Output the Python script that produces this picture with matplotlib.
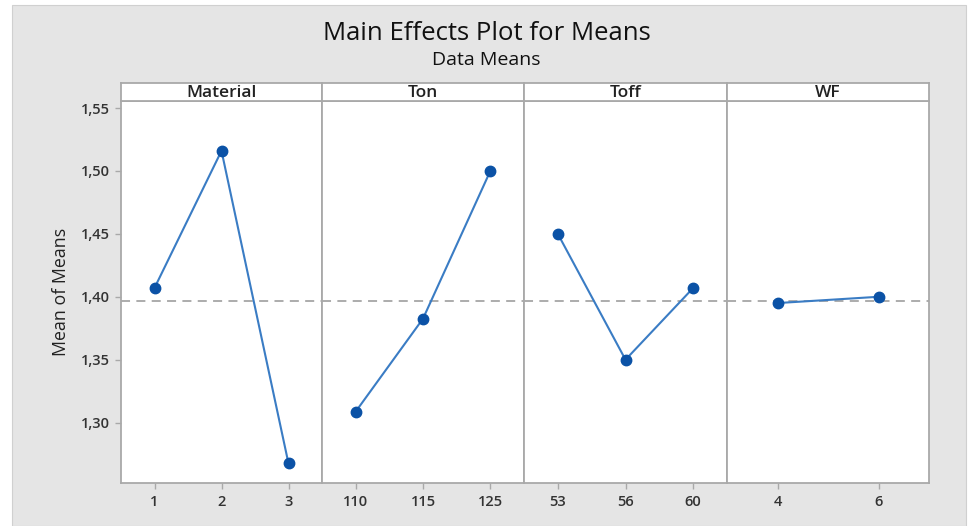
import numpy as np
import matplotlib
matplotlib.use("Agg")
import matplotlib.pyplot as plt
from matplotlib.patches import Rectangle
from matplotlib.ticker import FuncFormatter

# data
factors = ["Material", "Ton", "Toff", "WF"]
levels = [["1", "2", "3"], ["110", "115", "125"], ["53", "56", "60"], ["4", "6"]]
material_means = [1.407, 1.516, 1.2675]
ton_means = [1.3087, 1.3826, 1.500]
toff_means = [1.450, 1.350, 1.407]
wf_means = [1.395, 1.400]
grand_mean = 1.3968
y_ticks = [1.30, 1.35, 1.40, 1.45, 1.50, 1.55]

means = [material_means, ton_means, toff_means, wf_means]

W, H = 973, 526
plt.rcParams['font.family'] = ['Open Sans', 'DejaVu Sans']
fig = plt.figure(figsize=(W / 100, H / 100), dpi=100)
fig.patch.set_facecolor("white")

# grey background area
fig.patches.append(Rectangle((12 / W, 0), (966 - 12) / W, 1 - 5 / H,
                             transform=fig.transFigure, facecolor="#e5e5e5",
                             edgecolor="#d0d0d0", lw=0.8, zorder=-10))

def fx(px):
    return px / W

def fy(py):
    return 1 - py / H

edges = [121, 322, 524, 727, 929]
top, bottom, strip_top = 101, 483, 83
spine_col = "#a9a9a9"
line_col = "#3a7cc4"
mark_col = "#0b52a6"

fmt = FuncFormatter(lambda v, p: f"{v:.2f}".replace(".", ","))

for i, name in enumerate(factors):
    x0, x1 = edges[i], edges[i + 1]
    ax = fig.add_axes([fx(x0), fy(bottom), fx(x1 - x0), (bottom - top) / H])
    n = len(levels[i])
    xs = np.arange(n)
    ax.axhline(grand_mean, color="#a6a6a6", lw=1.3, ls=(0, (5, 3.5)), zorder=1)
    ax.plot(xs, means[i], color=line_col, lw=1.5, marker="o", ms=7.5,
            mfc=mark_col, mec=mark_col, zorder=3)
    ax.set_xlim(-0.5, n - 0.5)
    ax.set_ylim(1.252, 1.5556)
    ax.set_xticks(xs)
    ax.set_xticklabels(levels[i], fontsize=10.5, fontweight="semibold", color="#333333")
    ax.tick_params(axis="x", length=4, width=1, color=spine_col, pad=5)
    ax.set_yticks(y_ticks)
    if i == 0:
        ax.yaxis.set_major_formatter(fmt)
        ax.tick_params(axis="y", length=4, width=1, color=spine_col, pad=4,
                       labelsize=10.5, labelcolor="#333333")
        for lab in ax.get_yticklabels():
            lab.set_fontweight("semibold")
        ax.set_ylabel("Mean of Means", fontsize=12.8, color="#222222", labelpad=8)
    else:
        ax.tick_params(axis="y", length=0, labelleft=False)
    for s in ax.spines.values():
        s.set_color(spine_col)
        s.set_linewidth(1.3)
    ax.set_facecolor("white")

    # strip label on top
    sax = fig.add_axes([fx(x0), fy(top), fx(x1 - x0), (top - strip_top) / H])
    sax.set_facecolor("white")
    sax.set_xticks([])
    sax.set_yticks([])
    for s in sax.spines.values():
        s.set_color(spine_col)
        s.set_linewidth(1.3)
    sax.text(0.5, 0.45, name, transform=sax.transAxes, ha="center", va="center",
             fontsize=12.5, fontweight="semibold", color="#222222")

fig.text(0.5, fy(33), "Main Effects Plot for Means", ha="center", va="center",
         fontsize=18.5, color="#111111")
fig.text(0.5, fy(60), "Data Means", ha="center", va="center",
         fontsize=14, color="#111111")

fig.savefig("out.png", dpi=100, facecolor=fig.get_facecolor())
